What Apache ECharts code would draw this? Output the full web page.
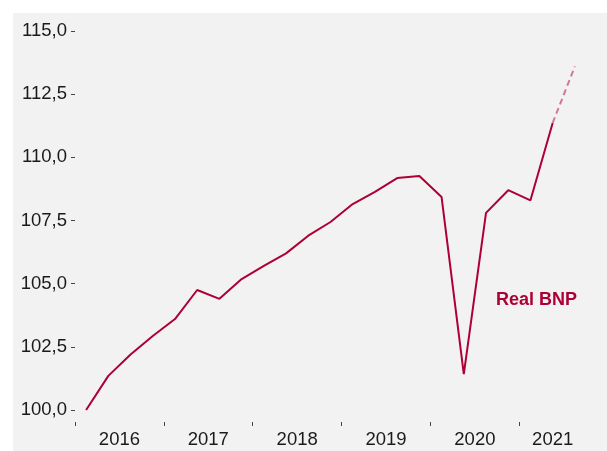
<!DOCTYPE html>
<html>
<head>
<meta charset="utf-8">
<script src="https://cdn.jsdelivr.net/npm/echarts@6/dist/echarts.min.js"></script>
<style>
  html, body { margin: 0; padding: 0; background: #ffffff; }
  #chart { position: absolute; left: 13px; top: 13px; width: 594px; height: 438px; background: #f2f2f2; }
</style>
</head>
<body>
<div id="chart"></div>
<script>
// quarters 2016K1 .. 2021K3
const quarters = [
  '2016K1', '2016K2', '2016K3', '2016K4',
  '2017K1', '2017K2', '2017K3', '2017K4',
  '2018K1', '2018K2', '2018K3', '2018K4',
  '2019K1', '2019K2', '2019K3', '2019K4',
  '2020K1', '2020K2', '2020K3', '2020K4',
  '2021K1', '2021K2', '2021K3'
];
// Real BNP, index (2016K1 = 100)
const realBnp = [
  100.0, 101.35, 102.2, 102.93,
  103.6, 104.75, 104.4, 105.18,
  105.7, 106.2, 106.9, 107.44,
  108.15, 108.63, 109.18, 109.26,
  108.43, 101.42, 107.8, 108.7,
  108.3, 111.36
];
// projection (dashed)
const forecast = [111.36, 113.6];
const forecastStart = 21;

const years = ['2016', '2017', '2018', '2019', '2020', '2021'];
const yearTicks = [0, 4, 8, 12, 16, 20];       // year boundaries, in quarters
const yearLabelPos = [2, 6, 10, 14, 18, 21.5];  // centre of each year's quarters
const yTicks = [100, 102.5, 105, 107.5, 110, 112.5, 115];

const red = '#ad0035';

const chart = echarts.init(document.getElementById('chart'), null, { renderer: 'canvas' });

const mainData = realBnp.map((v, i) => [i + 0.5, v]);
const forecastData = forecast.map((v, i) => [forecastStart + i + 0.5, v]);

chart.setOption({
  animation: false,
  backgroundColor: '#f2f2f2',
  textStyle: { fontFamily: 'Liberation Sans, Arial, sans-serif' },
  grid: { left: 62, top: 18, right: 21, bottom: 41, containLabel: false, outerBoundsMode: 'none' },
  xAxis: {
    type: 'value',
    min: 0,
    max: quarters.length,
    offset: 12,
    axisLine: { show: false },
    splitLine: { show: false },
    axisTick: {
      show: true, length: 4, customValues: yearTicks,
      lineStyle: { color: '#444', width: 1 }
    },
    axisLabel: {
      customValues: yearLabelPos,
      margin: 8,
      fontSize: 18.5,
      color: '#1a1a1a',
      formatter: function (v) {
        return years[yearLabelPos.indexOf(v)] || '';
      }
    }
  },
  yAxis: {
    type: 'value',
    min: 100,
    max: 115,
    axisLine: { show: false },
    splitLine: { show: false },
    axisTick: {
      show: true, length: 4, customValues: yTicks,
      lineStyle: { color: '#444', width: 1 }
    },
    axisLabel: {
      customValues: yTicks,
      margin: 8,
      fontSize: 18.5,
      color: '#1a1a1a',
      formatter: function (v) { return v.toFixed(1).replace('.', ','); }
    }
  },
  series: [
    {
      name: 'Real BNP',
      type: 'line',
      data: mainData,
      symbol: 'none',
      lineStyle: { color: red, width: 2 }
    },
    {
      name: 'Prognose',
      type: 'line',
      data: forecastData,
      symbol: 'none',
      lineStyle: { color: red, width: 2, type: [6, 4], opacity: 0.5 }
    }
  ],
  graphic: [{
    type: 'text',
    left: 483,
    top: 278,
    style: { text: 'Real BNP', fill: red, font: 'bold 18px Liberation Sans, Arial, sans-serif' }
  }]
});
</script>
</body>
</html>
